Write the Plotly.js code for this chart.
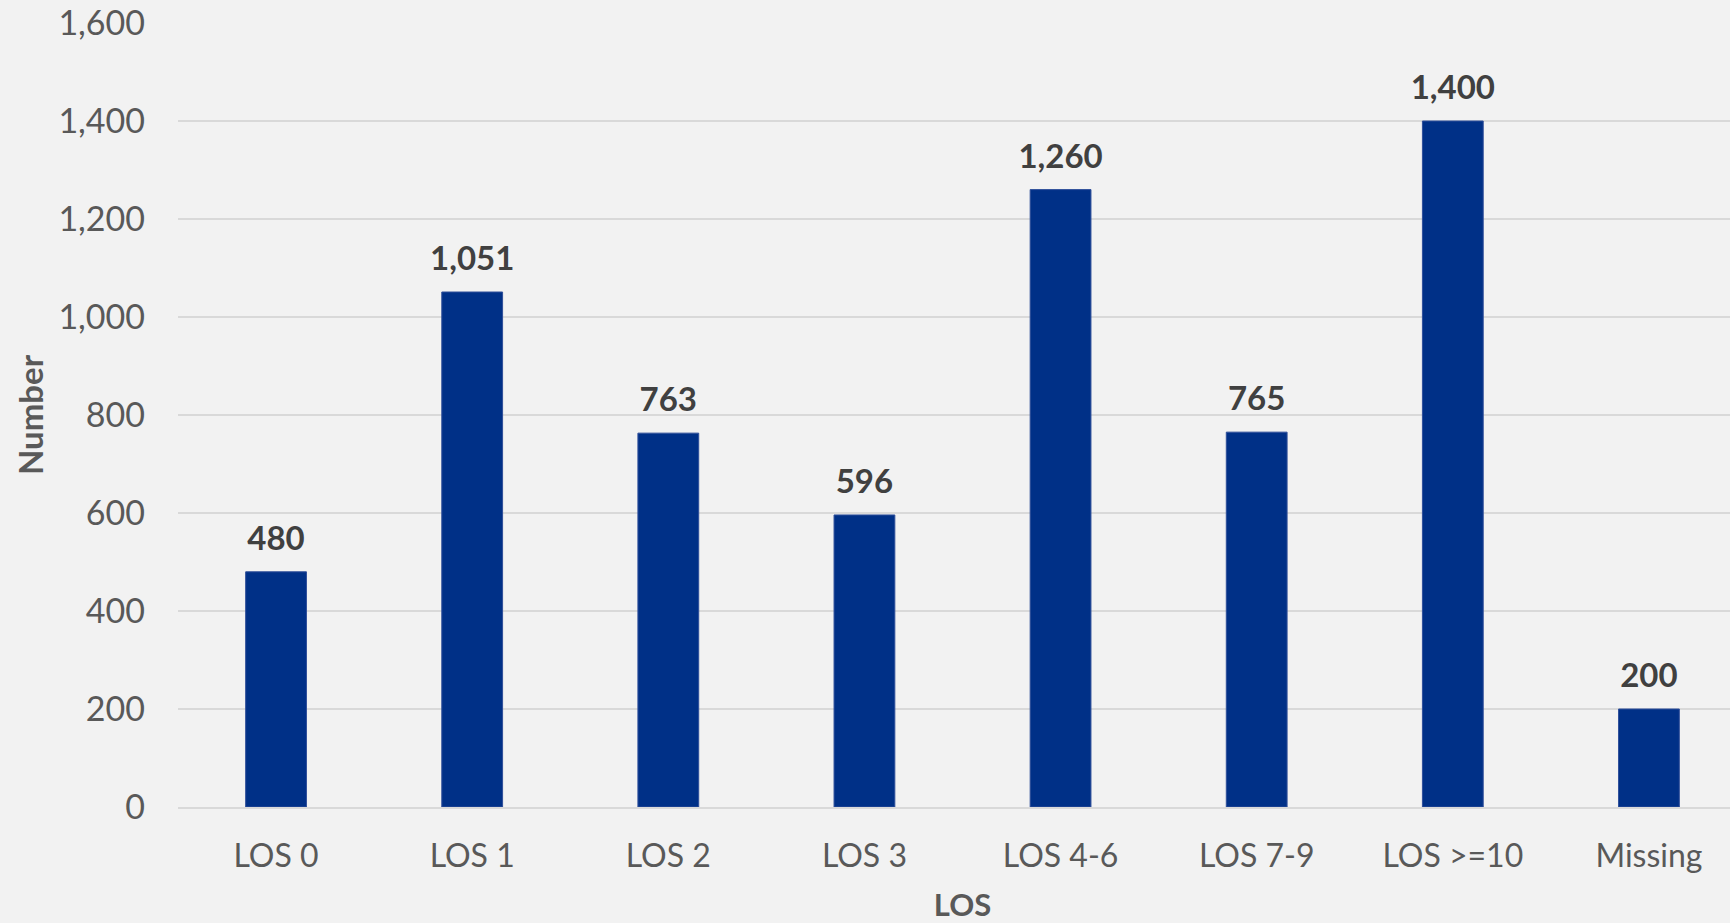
<!DOCTYPE html>
<html>
<head>
<meta charset="utf-8">
<script src="https://cdn.plot.ly/plotly-3.0.1.min.js"></script>
<style>
html,body{margin:0;padding:0;background:#f2f2f2;overflow:hidden;}
#chart{width:1750px;height:923px;}
</style>
</head>
<body>
<div id="chart"></div>
<script>
const categories = ["LOS 0","LOS 1","LOS 2","LOS 3","LOS 4-6","LOS 7-9","LOS >=10","Missing"];
const values = [480, 1051, 763, 596, 1260, 765, 1400, 200];
const yTicks = [0,200,400,600,800,1000,1200,1400,1600];

const FONT = "Lato, 'Open Sans', sans-serif";

const bars = {
  type: "bar",
  x: categories,
  y: values,
  marker: {color: "#003087", line: {color: "#2f4f9a", width: 1}},
  hoverinfo: "skip",
  showlegend: false
};
const labels = {
  type: "scatter",
  mode: "markers+text",
  x: categories,
  y: values,
  text: values.map(v => v.toLocaleString("en-US")),
  textposition: "top center",
  textfont: {family: FONT, size: 33, color: "#404040", weight: "bold"},
  marker: {size: 20, color: "rgba(0,0,0,0)"},
  hoverinfo: "skip",
  showlegend: false,
  cliponaxis: false
};

const layout = {
  width: 1750,
  height: 923,
  paper_bgcolor: "#f2f2f2",
  plot_bgcolor: "#f2f2f2",
  margin: {l: 178, r: 3, t: 23, b: 116},
  bargap: 0.69,
  font: {family: FONT, color: "#595959"},
  xaxis: {
    type: "category",
    showgrid: false,
    showline: true,
    linecolor: "#d9d9d9",
    linewidth: 2,
    ticks: "",
    tickfont: {family: FONT, size: 32, color: "#595959"},
    ticklabelstandoff: 20,
    title: {text: "LOS", font: {family: FONT, size: 31, color: "#595959", weight: "bold"}, standoff: 28},
    fixedrange: true
  },
  yaxis: {
    range: [0, 1600],
    tickvals: yTicks,
    ticktext: yTicks.map(v => v.toLocaleString("en-US")),
    showgrid: true,
    gridcolor: "#d9d9d9",
    gridwidth: 2,
    zeroline: false,
    showline: false,
    ticks: "",
    tickfont: {family: FONT, size: 34, color: "#595959"},
    ticklabelstandoff: 32,
    fixedrange: true
  },
  annotations: [{
    text: "Number",
    xref: "paper", yref: "paper",
    x: -0.0943, y: 0.5,
    xanchor: "center", yanchor: "middle",
    textangle: -90,
    showarrow: false,
    font: {family: FONT, size: 33, color: "#595959", weight: "bold"}
  }]
};

Plotly.newPlot("chart", [bars, labels], layout, {displayModeBar: false, staticPlot: true});
</script>
</body>
</html>
